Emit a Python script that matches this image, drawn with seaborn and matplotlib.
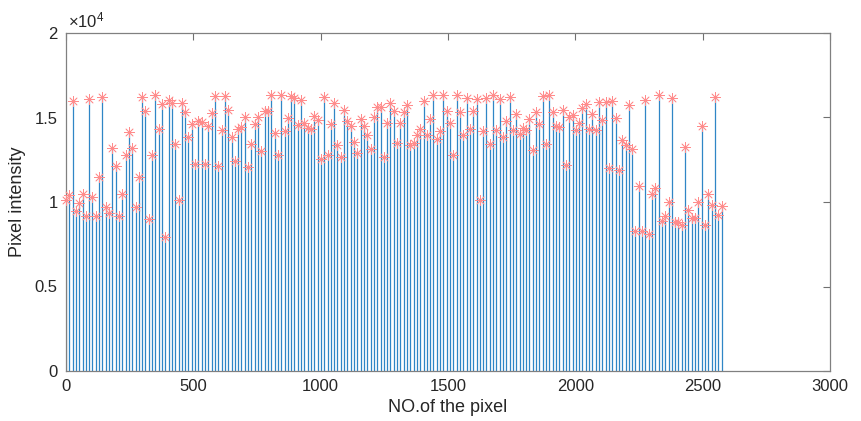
import numpy as np
import matplotlib
matplotlib.use("Agg")
import matplotlib.pyplot as plt
import matplotlib.ticker as mtk
import seaborn as sns

# sampled pixel intensities, one every 13 pixels
step = 13
intensity = [
    10140, 10430, 15960, 9490, 9940, 10480, 9190, 16110, 10310, 9190,
    11460, 16190, 9680, 9330, 13200, 12150, 9190, 10480, 12760, 14140,
    13200, 9700, 11500, 16190, 15370, 8990, 12760, 16350, 14320, 15800,
    7910, 16040, 15860, 13430, 10140, 15860, 15330, 13830, 14620, 12250,
    14770, 14710, 12250, 14480, 15250, 16270, 12150, 14260, 16270, 15440,
    13870, 12410, 14340, 14420, 15050, 12050, 13430, 14620, 15050, 13040,
    15370, 15400, 16350, 14100, 12800, 16350, 14220, 14950, 16270, 16130,
    14560, 16040, 14700, 14360, 14300, 15090, 14850, 12530, 16190, 12780,
    14620, 15880, 13370, 12640, 15440, 14810, 14500, 13570, 12920, 14890,
    14500, 13960, 13110, 15050, 15600, 15640, 12640, 14700, 15880, 15400,
    13470, 14700, 15330, 15760, 13350, 13490, 13980, 14340, 15990, 13940,
    14930, 16310, 13750, 14180, 16350, 15370, 14670, 12760, 16350, 15330,
    13940, 16150, 14340, 15370, 16110, 10140, 14180, 16150, 13430, 16350,
    14280, 16110, 13860, 14770, 16220, 14240, 15230, 14000, 14400, 14240,
    14900, 13100, 15330, 14620, 16260, 13450, 16320, 15330, 14480, 14440,
    15440, 12180, 15050, 15140, 14240, 14660, 15550, 15800, 14320, 15230,
    14240, 15930, 14880, 15930, 12000, 15950, 14990, 11900, 13680, 13360,
    15730, 13130, 8300, 10920, 8300, 16060, 8110, 10490, 10800, 16320,
    8850, 9190, 10010, 16170, 8830, 8800, 8650, 13240, 9530, 9070,
    9050, 10010, 14480, 8660, 10470, 9840, 16190, 9210, 9740,
]
pixel_no = np.arange(len(intensity)) * step

xticks = [0, 500, 1000, 1500, 2000, 2500, 3000]
yticks = [0, 5000, 10000, 15000, 20000]

sns.set_style("white")
plt.rcParams["font.family"] = ["Liberation Sans", "DejaVu Sans"]
plt.rcParams["mathtext.fontset"] = "custom"
plt.rcParams["mathtext.rm"] = "Liberation Sans"
plt.rcParams["mathtext.it"] = "Liberation Sans"

fig = plt.figure(figsize=(8.62, 4.21), dpi=100)
ax = fig.add_axes([66 / 862, 1 - 371 / 421, 764 / 862, 338 / 421])

ax.vlines(pixel_no, 0, intensity, colors="#2F86C6", linewidth=0.9, zorder=2)
sns.scatterplot(x=pixel_no, y=intensity, marker=(8, 2, 0), s=50,
                color="#FF8C8C", linewidth=0.55, ax=ax, zorder=3, clip_on=False)

ax.set_xlim(0, 3000)
ax.set_ylim(0, 20000)
ax.set_xticks(xticks)
ax.set_yticks(yticks)
ax.yaxis.set_major_formatter(mtk.FuncFormatter(lambda v, p: f"{v / 1e4:g}"))

grey = "#262626"
for s in ax.spines.values():
    s.set_color("#808080")
    s.set_linewidth(0.9)
ax.tick_params(direction="in", length=5, width=0.8, colors="#707070",
               labelcolor=grey, labelsize=12, top=True, right=True, pad=6)

ax.set_xlabel("NO.of the pixel", fontsize=13, color=grey, labelpad=3)
ax.set_ylabel("Pixel intensity", fontsize=13, color=grey, labelpad=6)
ax.text(0.003, 1.008, r"$\times10^{4}$", transform=ax.transAxes,
        ha="left", va="bottom", fontsize=12, color=grey)

fig.savefig("out.png", dpi=100)
